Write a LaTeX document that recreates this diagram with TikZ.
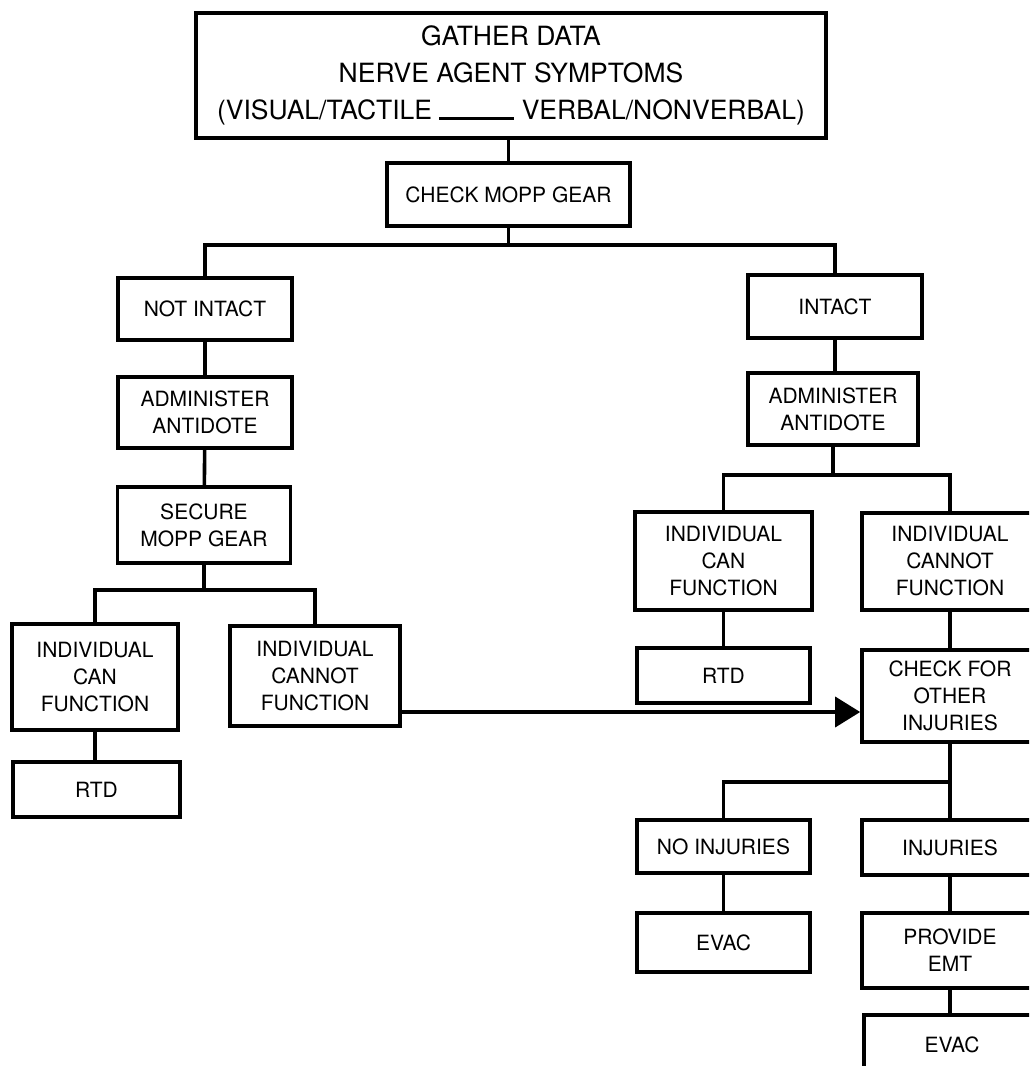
\documentclass[tikz,border=0pt]{standalone}
\usepackage{fontspec}
\setmainfont{TeX Gyre Heros}
\usetikzlibrary{arrows.meta, positioning}

\begin{document}
\begin{tikzpicture}[
    x=1pt, y=-1pt,
    box/.style={draw, line width=3.6pt, inner sep=0pt, align=center,
      font=\fontsize{21}{27}\selectfont},
    link/.style={line width=3.6pt},
    arr/.style={line width=3.6pt, -{Triangle[length=25pt, width=30pt]}},
  ]
    \fill[white] (0,0) rectangle (1029,1066);
    \useasboundingbox (0,0) rectangle (1029,1066);
    \clip (0,0) rectangle (1029,1066);

    % top of the chart
    \node[box, minimum width=630pt, minimum height=125pt, font=\fontsize{26.5}{37}\selectfont]
      (gather) at (511,75.5) {GATHER DATA\\NERVE AGENT SYMPTOMS\\(VISUAL/TACTILE \rule{75pt}{2.5pt} VERBAL/NONVERBAL)};
    \node[box, minimum width=243pt, minimum height=63pt] (mopp) at (508.5,194.5) {CHECK MOPP GEAR};

    % gear not intact
    \node[box, minimum width=174pt, minimum height=62pt] (notint) at (205,309) {NOT INTACT};
    \node[box, minimum width=174pt, minimum height=71pt] (adminL) at (205,412.5) {ADMINISTER\\ANTIDOTE};
    \node[box, minimum width=173pt, minimum height=76pt] (secure) at (204,525) {SECURE\\MOPP GEAR};
    \node[box, minimum width=166pt, minimum height=106pt] (canL) at (95,677) {INDIVIDUAL\\CAN\\FUNCTION};
    \node[box, minimum width=170pt, minimum height=100pt] (cannotL) at (315,676) {INDIVIDUAL\\CANNOT\\FUNCTION};
    \node[box, minimum width=167pt, minimum height=55pt] (rtdL) at (96.5,789.5) {RTD};

    % gear intact
    \node[box, minimum width=174pt, minimum height=63pt] (intact) at (835,306.5) {INTACT};
    \node[box, minimum width=170pt, minimum height=72pt] (adminR) at (833,409) {ADMINISTER\\ANTIDOTE};
    \node[box, minimum width=177pt, minimum height=98pt] (canR) at (723.5,561) {INDIVIDUAL\\CAN\\FUNCTION};
    \node[box, minimum width=176pt, minimum height=97pt] (cannotR) at (950,561.5) {INDIVIDUAL\\CANNOT\\FUNCTION};
    \node[box, minimum width=173pt, minimum height=55pt] (rtdR) at (723.5,675.5) {RTD};
    \node[box, minimum width=176pt, minimum height=92pt] (other) at (950,696) {CHECK FOR\\OTHER\\INJURIES};

    % injuries
    \node[box, minimum width=173pt, minimum height=53pt] (noinj) at (723.5,846.5) {NO INJURIES};
    \node[box, minimum width=176pt, minimum height=55pt] (inj) at (950,847.5) {INJURIES};
    \node[box, minimum width=173pt, minimum height=59pt] (evacL) at (723.5,942.5) {EVAC};
    \node[box, minimum width=176pt, minimum height=75pt] (emt) at (950,950.5) {PROVIDE\\EMT};
    \node[box, minimum width=176pt, minimum height=60pt] (evacR) at (952,1045) {EVAC};

    % junctions
    \coordinate (j1) at (508.5,245);
    \coordinate (j2) at (204,590);
    \coordinate (j3) at (833,475);
    \coordinate (j4) at (950,782);

    \draw[link] (mopp.north) -- (mopp.north |- gather.south);
    \draw[link] (mopp.south) -- (j1);
    \draw[link] (notint.north) -- (notint.north |- j1) -- (intact.north |- j1) -- (intact.north);
    \draw[link] (notint) -- (adminL);
    \draw[link] (adminL) -- (secure);
    \draw[link] (secure.south) -- (j2);
    \draw[link] (canL.north) -- (canL.north |- j2) -- (cannotL.north |- j2) -- (cannotL.north);
    \draw[link] (canL.south) -- (canL.south |- rtdL.north);
    \draw[arr] ([yshift=-36pt]cannotL.east) -- ([yshift=-36pt]cannotL.east -| other.west);

    \draw[link] (intact.south) -- (intact.south |- adminR.north);
    \draw[link] (adminR.south) -- (j3);
    \draw[link] (canR.north) -- (canR.north |- j3) -- (cannotR.north |- j3) -- (cannotR.north);
    \draw[link] (canR) -- (rtdR);
    \draw[link] (cannotR) -- (other);
    \draw[link] (other.south) -- (j4);
    \draw[link] (noinj.north) -- (noinj.north |- j4) -- (inj.north |- j4) -- (inj.north);
    \draw[link] (noinj) -- (evacL);
    \draw[link] (inj) -- (emt);
    \draw[link] (emt.south) -- (emt.south |- evacR.north);
\end{tikzpicture}
\end{document}
